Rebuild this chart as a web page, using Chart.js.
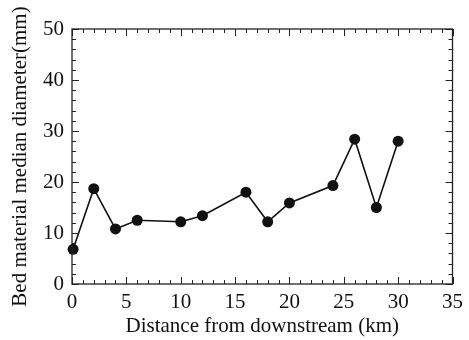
<!DOCTYPE html>
<html><head><meta charset="utf-8">
<script src="https://cdn.jsdelivr.net/npm/chart.js@4/dist/chart.umd.min.js"></script>
<style>html,body{margin:0;padding:0;background:#fff}#wrap{width:469px;height:340px}</style>
</head><body><div id="wrap"><canvas id="c"></canvas></div>
<script>
const distanceKm = [0.1, 2.0, 4.0, 6.0, 10.0, 12.0, 16.0, 18.0, 20.0, 24.0, 26.0, 28.0, 30.0];
const medianDiameterMm = [6.8, 18.7, 10.8, 12.5, 12.2, 13.4, 18.0, 12.2, 15.9, 19.3, 28.4, 15.0, 28.0];
const xRange = [0, 35];
const yRange = [0, 50];
const xTitle = 'Distance from downstream (km)';
const yTitle = 'Bed material median diameter(mm)';

const FONT = "'Liberation Serif','Times New Roman',serif";

const innerTicks = {
  id: 'innerTicks',
  afterDatasetsDraw(chart) {
    const {ctx, chartArea: a, scales: {x, y}} = chart;
    ctx.save();
    ctx.strokeStyle = '#222';
    ctx.lineWidth = 1;
    ctx.beginPath();
    for (let v = x.min; v <= x.max; v += 1) {
      const px = Math.round(x.getPixelForValue(v)) + 0.5;
      const len = v % 5 === 0 ? 7 : 4;
      ctx.moveTo(px, a.bottom); ctx.lineTo(px, a.bottom - len);
      ctx.moveTo(px, a.top); ctx.lineTo(px, a.top + len);
    }
    for (let v = y.min; v <= y.max; v += 2) {
      const py = Math.round(y.getPixelForValue(v)) + 0.5;
      const len = v % 10 === 0 ? 7 : 4;
      ctx.moveTo(a.left, py); ctx.lineTo(a.left + len, py);
      ctx.moveTo(a.right, py); ctx.lineTo(a.right - len, py);
    }
    ctx.stroke();
    ctx.lineWidth = 1.3;
    ctx.strokeStyle = '#222';
    ctx.strokeRect(a.left, a.top, a.right - a.left, a.bottom - a.top);
    ctx.restore();
  }
};

new Chart(document.getElementById('c'), {
  type: 'scatter',
  data: {
    datasets: [{
      data: distanceKm.map((d, i) => ({x: d, y: medianDiameterMm[i]})),
      showLine: true,
      borderColor: '#111',
      borderWidth: 1.6,
      backgroundColor: '#111',
      pointRadius: 5.5,
      pointHoverRadius: 5.5,
      pointBorderWidth: 0,
      clip: false
    }]
  },
  options: {
    responsive: true,
    maintainAspectRatio: false,
    animation: false,
    layout: {padding: {top: 29, right: 16, left: 0, bottom: 0}},
    plugins: {legend: {display: false}, tooltip: {enabled: false}},
    scales: {
      x: {
        type: 'linear', min: xRange[0], max: xRange[1],
        grid: {display: false, drawTicks: false},
        border: {display: false},
        ticks: {stepSize: 5, color: '#111', padding: 6, font: {family: FONT, size: 21}},
        title: {display: true, text: xTitle, color: '#111', padding: {top: 0, bottom: 1}, font: {family: FONT, size: 21}},
        afterFit(s) { s.height = 56; }
      },
      y: {
        type: 'linear', min: yRange[0], max: yRange[1],
        grid: {display: false, drawTicks: false},
        border: {display: false},
        ticks: {stepSize: 10, color: '#111', padding: 8, font: {family: FONT, size: 21}},
        title: {display: true, text: yTitle, color: '#111', padding: {top: 8, bottom: 0}, font: {family: FONT, size: 21}},
        afterFit(s) { s.width = 72; }
      }
    }
  },
  plugins: [innerTicks]
});
</script></body></html>
